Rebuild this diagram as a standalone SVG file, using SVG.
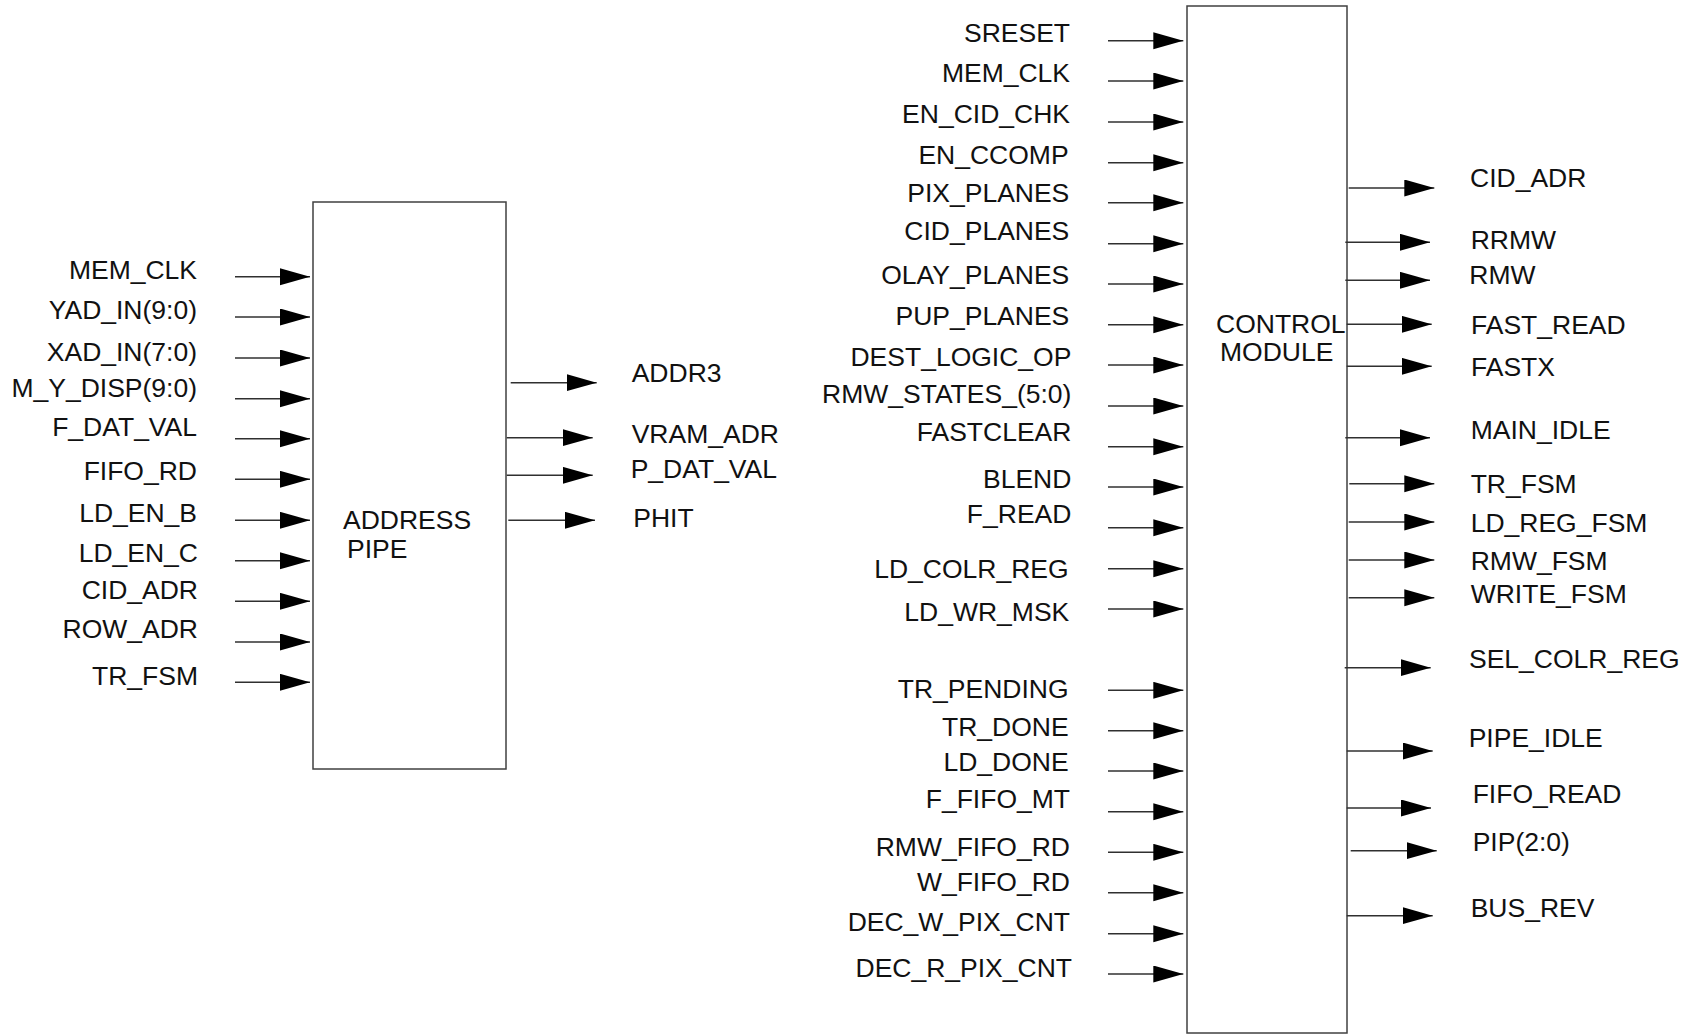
<svg xmlns="http://www.w3.org/2000/svg" width="1690" height="1034" viewBox="0 0 1690 1034">
<style>
.box{fill:#fff;stroke:#404040;stroke-width:1.5}
.w{stroke:#303030;stroke-width:1.4;fill:none;marker-end:url(#ah)}
text{font-family:"Liberation Sans",Arial,sans-serif;font-size:26.5px;fill:#111}
.r{text-anchor:end}
</style>
<defs>
<marker id="ah" markerUnits="userSpaceOnUse" markerWidth="31" markerHeight="18" refX="30" refY="8.5" orient="auto" viewBox="0 0 31 18">
<path d="M0,0 L30,8.5 L0,17 z" fill="#000"/>
</marker>
</defs>
<rect width="1690" height="1034" fill="#fff"/>
<g id="address_pipe">
<rect class="box" x="313" y="202" width="193" height="567"/>
<text x="343" y="529">ADDRESS</text>
<text x="347" y="558">PIPE</text>
</g>
<g id="control_module">
<rect class="box" x="1187" y="6" width="160" height="1027"/>
<text x="1216" y="333">CONTROL</text>
<text x="1220" y="361">MODULE</text>
</g>
<g id="connectors">
<path class="w" d="M235,276.7H310"/>
<path class="w" d="M235,317H310"/>
<path class="w" d="M235,358H310"/>
<path class="w" d="M235,398.7H310"/>
<path class="w" d="M235,438.7H310"/>
<path class="w" d="M235,479.3H310"/>
<path class="w" d="M235,520.3H310"/>
<path class="w" d="M235,560.7H310"/>
<path class="w" d="M235,601.3H310"/>
<path class="w" d="M235,642H310"/>
<path class="w" d="M235,682.3H310"/>
<path class="w" d="M510.7,382.7H596.7"/>
<path class="w" d="M506.7,437.7H592.7"/>
<path class="w" d="M506.7,475.3H592.7"/>
<path class="w" d="M508.3,520.3H595"/>
<path class="w" d="M1108,40.7H1183.3"/>
<path class="w" d="M1108,81H1183.3"/>
<path class="w" d="M1108,122H1183.3"/>
<path class="w" d="M1108,162.7H1183.3"/>
<path class="w" d="M1108,202.7H1183.3"/>
<path class="w" d="M1108,243.7H1183.3"/>
<path class="w" d="M1108,284H1183.3"/>
<path class="w" d="M1108,324.7H1183.3"/>
<path class="w" d="M1108,365H1183.3"/>
<path class="w" d="M1108,406H1183.3"/>
<path class="w" d="M1108,446.7H1183.3"/>
<path class="w" d="M1108,487H1183.3"/>
<path class="w" d="M1108,527.7H1183.3"/>
<path class="w" d="M1108,568.7H1183.3"/>
<path class="w" d="M1108,609H1183.3"/>
<path class="w" d="M1108,690.3H1183.3"/>
<path class="w" d="M1108,730.7H1183.3"/>
<path class="w" d="M1108,771H1183.3"/>
<path class="w" d="M1108,811.7H1183.3"/>
<path class="w" d="M1108,852.3H1183.3"/>
<path class="w" d="M1108,892.7H1183.3"/>
<path class="w" d="M1108,933.7H1183.3"/>
<path class="w" d="M1108,974H1183.3"/>
<path class="w" d="M1348.7,188H1434.3"/>
<path class="w" d="M1345.3,242.3H1430"/>
<path class="w" d="M1345.3,280.3H1430"/>
<path class="w" d="M1346.7,324.3H1431.7"/>
<path class="w" d="M1346.7,366.3H1431.7"/>
<path class="w" d="M1345.3,437.7H1430"/>
<path class="w" d="M1349.3,483.7H1434.3"/>
<path class="w" d="M1348.7,522H1434.3"/>
<path class="w" d="M1348.7,560H1434.3"/>
<path class="w" d="M1348.7,597.7H1434.3"/>
<path class="w" d="M1344.7,667.7H1430.7"/>
<path class="w" d="M1346.7,751H1432.7"/>
<path class="w" d="M1346.7,808H1431"/>
<path class="w" d="M1350.7,850.7H1436.7"/>
<path class="w" d="M1346.7,915.7H1432.7"/>
</g>
<g id="labels">
<text class="r" x="197" y="278.7">MEM_CLK</text>
<text class="r" x="197" y="319">YAD_IN(9:0)</text>
<text class="r" x="197" y="360.7">XAD_IN(7:0)</text>
<text class="r" x="197" y="397">M_Y_DISP(9:0)</text>
<text class="r" x="197" y="436">F_DAT_VAL</text>
<text class="r" x="197" y="480">FIFO_RD</text>
<text class="r" x="197" y="522">LD_EN_B</text>
<text class="r" x="198" y="562">LD_EN_C</text>
<text class="r" x="198" y="599.3">CID_ADR</text>
<text class="r" x="198" y="637.7">ROW_ADR</text>
<text class="r" x="198" y="684.7">TR_FSM</text>
<text x="631.7" y="381.7">ADDR3</text>
<text x="631.7" y="443.3">VRAM_ADR</text>
<text x="630.7" y="478.3">P_DAT_VAL</text>
<text x="633.3" y="526.7">PHIT</text>
<text class="r" x="1070" y="41.7">SRESET</text>
<text class="r" x="1070" y="82.3">MEM_CLK</text>
<text class="r" x="1070" y="123.3">EN_CID_CHK</text>
<text class="r" x="1068.6" y="164.3">EN_CCOMP</text>
<text class="r" x="1069.3" y="202.3">PIX_PLANES</text>
<text class="r" x="1069.3" y="240">CID_PLANES</text>
<text class="r" x="1069.3" y="284.3">OLAY_PLANES</text>
<text class="r" x="1069.3" y="325">PUP_PLANES</text>
<text class="r" x="1071.4" y="365.7">DEST_LOGIC_OP</text>
<text class="r" x="1071.4" y="403.3">RMW_STATES_(5:0)</text>
<text class="r" x="1071.4" y="441">FASTCLEAR</text>
<text class="r" x="1071.4" y="488.3">BLEND</text>
<text class="r" x="1071.4" y="522.7">F_READ</text>
<text class="r" x="1068.6" y="578">LD_COLR_REG</text>
<text class="r" x="1069.3" y="620.7">LD_WR_MSK</text>
<text class="r" x="1068.6" y="697.7">TR_PENDING</text>
<text class="r" x="1068.6" y="736">TR_DONE</text>
<text class="r" x="1068.6" y="771">LD_DONE</text>
<text class="r" x="1070" y="808.3">F_FIFO_MT</text>
<text class="r" x="1070" y="855.7">RMW_FIFO_RD</text>
<text class="r" x="1070" y="890.7">W_FIFO_RD</text>
<text class="r" x="1070" y="930.7">DEC_W_PIX_CNT</text>
<text class="r" x="1072" y="976.7">DEC_R_PIX_CNT</text>
<text x="1470" y="186.7">CID_ADR</text>
<text x="1470.7" y="249">RRMW</text>
<text x="1469.3" y="284">RMW</text>
<text x="1471" y="333.7">FAST_READ</text>
<text x="1471" y="375.7">FASTX</text>
<text x="1470.7" y="438.7">MAIN_IDLE</text>
<text x="1470.7" y="493.3">TR_FSM</text>
<text x="1470.7" y="532.3">LD_REG_FSM</text>
<text x="1470.7" y="570">RMW_FSM</text>
<text x="1470.7" y="602.7">WRITE_FSM</text>
<text x="1469" y="668.3">SEL_COLR_REG</text>
<text x="1468.7" y="746.7">PIPE_IDLE</text>
<text x="1472.7" y="802.7">FIFO_READ</text>
<text x="1472.7" y="850.7">PIP(2:0)</text>
<text x="1470.7" y="916.7">BUS_REV</text>
</g>
</svg>
